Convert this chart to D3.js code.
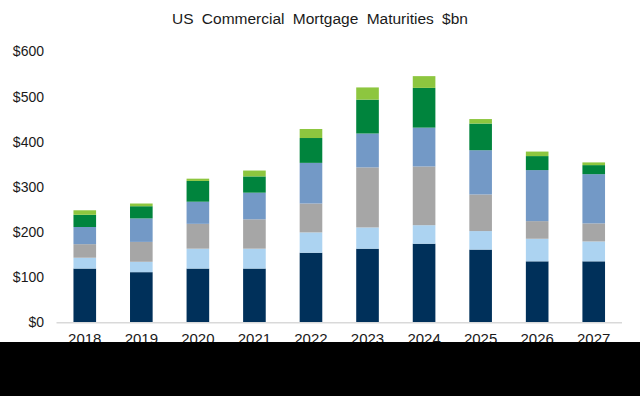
<!DOCTYPE html>
<html>
<head>
<meta charset="utf-8">
<script src="https://cdn.jsdelivr.net/npm/d3@7"></script>
<style>
  html, body { margin: 0; padding: 0; background: #fff; }
  svg { display: block; font-family: "Liberation Sans", Arial, sans-serif; }
</style>
</head>
<body>
<div id="chart"></div>
<script>
// values, $bn, bottom to top
const years = ["2018", "2019", "2020", "2021", "2022", "2023", "2024", "2025", "2026", "2027"];
const seriesNames = ["s1", "s2", "s3", "s4", "s5", "s6"];
const s1 = [119, 111, 119, 119, 154, 163, 174, 161, 135, 135];
const s2 = [24, 23, 44, 44, 45, 47, 41, 41, 50, 44];
const s3 = [30, 44, 55, 65, 64, 133, 130, 81, 39, 40];
const s4 = [38, 52, 49, 59, 90, 75, 86, 98, 113, 109];
const s5 = [27, 27, 46, 36, 55, 75, 88, 59, 31, 20];
const s6 = [10, 6, 5, 13, 20, 27, 26, 10, 10, 6];
const yTicks = [0, 100, 200, 300, 400, 500, 600];
const colors = ["#00305a", "#acd3f1", "#a6a6a6", "#7399c6", "#00843d", "#8dc63f"];

const width = 640, height = 396;

const svg = d3.select("#chart")
  .append("svg")
  .attr("width", width)
  .attr("height", height);

svg.append("rect")
  .attr("width", width)
  .attr("height", height)
  .attr("fill", "#fff");

const table = years.map((yr, i) => ({
  year: yr, s1: s1[i], s2: s2[i], s3: s3[i], s4: s4[i], s5: s5[i], s6: s6[i]
}));

const stacked = d3.stack().keys(seriesNames)(table);

const x = d3.scaleBand()
  .domain(years)
  .range([56.5, 622])
  .paddingInner(0.6)
  .paddingOuter(0.3);

const y = d3.scaleLinear()
  .domain([0, 600])
  .range([322.3, 51.3]);

// title
svg.append("text")
  .attr("x", 320)
  .attr("y", 23.5)
  .attr("text-anchor", "middle")
  .style("font-size", "15.5px")
  .style("word-spacing", "4px")
  .attr("fill", "#1a1a1a")
  .text("US Commercial Mortgage Maturities $bn");

// y labels
svg.append("g")
  .selectAll("text")
  .data(yTicks)
  .enter()
  .append("text")
  .attr("x", 44)
  .attr("y", d => y(d))
  .attr("dy", "0.36em")
  .attr("text-anchor", "end")
  .style("font-size", "14px")
  .attr("fill", "#1a1a1a")
  .text(d => "$" + d);

// bars
svg.append("g")
  .selectAll("g")
  .data(stacked)
  .enter()
  .append("g")
  .attr("fill", (d, i) => colors[i])
  .selectAll("rect")
  .data(d => d)
  .enter()
  .append("rect")
  .attr("x", d => x(d.data.year))
  .attr("width", x.bandwidth())
  .attr("y", d => y(d[1]))
  .attr("height", d => y(d[0]) - y(d[1]));

// x axis line
svg.append("line")
  .attr("x1", 56.5)
  .attr("x2", 622)
  .attr("y1", y(0) + 0.5)
  .attr("y2", y(0) + 0.5)
  .attr("stroke", "#d9d9d9")
  .attr("stroke-width", 1.5);

// year labels
svg.append("g")
  .selectAll("text")
  .data(years)
  .enter()
  .append("text")
  .attr("x", d => x(d) + x.bandwidth() / 2)
  .attr("y", 344)
  .attr("text-anchor", "middle")
  .style("font-size", "15px")
  .attr("fill", "#1a1a1a")
  .text(d => d);

// black band across the bottom, as in the source picture
svg.append("rect")
  .attr("x", 0)
  .attr("y", 342)
  .attr("width", width)
  .attr("height", height - 342)
  .attr("fill", "#000");
</script>
</body>
</html>
